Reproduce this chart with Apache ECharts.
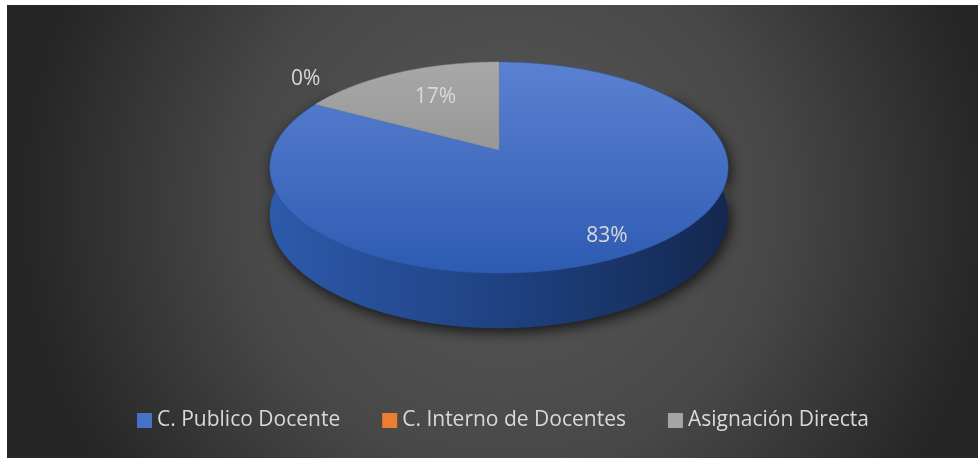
<!DOCTYPE html>
<html>
<head>
<meta charset="utf-8">
<script src="https://cdn.jsdelivr.net/npm/echarts@6/dist/echarts.min.js"></script>
<style>
  html, body { margin: 0; padding: 0; background: #fff; }
  #chart { position: absolute; left: 7px; top: 5px; width: 971px; height: 453px; }
</style>
</head>
<body>
<div id="chart"></div>
<script>
// datos (porcentajes)
const categories = ['C. Publico Docente', 'C. Interno de Docentes', 'Asignación Directa'];
const shares = [83, 0, 17];
const legendColors = ['#4472c4', '#ed7d31', '#a5a5a5'];

// geometria del pastel 3D (perspectiva simple)
const CX = 492, CY = 145, RA = 226, RB = 102.6, PERSP = 0.166, DEPTH = 46;
// donde va cada etiqueta: radio relativo + desplazamiento
const labelPlace = [
    { r: 0.84, dx: -2, dy: 2 },
    { r: 1, dx: -10, dy: -25 },
    { r: 0.63, dx: 3, dy: -2 }
];

const topFill = [
    { type: 'linear', global: true, x: 0, y: 57, x2: 0, y2: 268,
      colorStops: [{ offset: 0, color: '#5b81d1' }, { offset: 1, color: '#2d5bb2' }] },
    { type: 'linear', global: true, x: 0, y: 57, x2: 0, y2: 268,
      colorStops: [{ offset: 0, color: '#f08a44' }, { offset: 1, color: '#d96e25' }] },
    { type: 'linear', global: true, x: 0, y: 57, x2: 0, y2: 150,
      colorStops: [{ offset: 0, color: '#a8a8a8' }, { offset: 1, color: '#969696' }] }
];
const sideFill = [
    { type: 'linear', global: true, x: 263, y: 0, x2: 721, y2: 0,
      colorStops: [{ offset: 0, color: '#2d5aab' }, { offset: 0.5, color: '#1f4283' }, { offset: 1, color: '#14284f' }] },
    { type: 'linear', global: true, x: 263, y: 0, x2: 721, y2: 0,
      colorStops: [{ offset: 0, color: '#b45a1c' }, { offset: 1, color: '#6e3410' }] },
    { type: 'linear', global: true, x: 263, y: 0, x2: 721, y2: 0,
      colorStops: [{ offset: 0, color: '#7a7a7a' }, { offset: 1, color: '#4a4a4a' }] }
];

function proj(r, t, down) {
    const w = 1 / (1 + PERSP * r * Math.cos(t));
    return [CX + RA * r * Math.sin(t) * w, CY - RB * r * Math.cos(t) * w + (down ? DEPTH * w : 0)];
}

function arc(a, b, down) {
    const pts = [];
    const n = Math.max(2, Math.ceil(Math.abs(b - a) / 0.015));
    for (let k = 0; k <= n; k++) {
        pts.push(proj(1, a + (b - a) * k / n, down));
    }
    return pts;
}

const total = shares.reduce((s, v) => s + v, 0);

function renderSlice(params, api) {
    const i = params.seriesIndex;
    const before = shares.slice(0, i).reduce((s, v) => s + v, 0);
    const start = before / total * Math.PI * 2;
    const end = start + api.value(0) / total * Math.PI * 2;
    const children = [];
    if (end > start) {
        // pared frontal
        const a = Math.max(start, Math.PI * 0.3), b = Math.min(end, Math.PI * 1.7);
        if (b > a) {
            const pts = arc(a, b, false).concat(arc(a, b, true).reverse());
            children.push({
                type: 'polygon', z2: 1,
                shape: { points: pts },
                style: { fill: sideFill[i], shadowBlur: 14, shadowColor: 'rgba(0,0,0,0.75)', shadowOffsetY: 4, shadowOffsetX: 2 }
            });
        }
        // cara superior
        children.push({
            type: 'polygon', z2: 10,
            shape: { points: [[CX, CY]].concat(arc(start, end, false)) },
            style: { fill: topFill[i], stroke: topFill[i].colorStops[1].color, lineWidth: 0.5 }
        });
    }
    const mid = (start + end) / 2;
    const lp = labelPlace[i];
    const p = proj(lp.r, mid, false);
    children.push({
        type: 'text', z2: 20,
        style: {
            text: Math.round(api.value(0) / total * 100) + '%',
            x: p[0] + lp.dx, y: p[1] + lp.dy,
            align: 'center', verticalAlign: 'middle',
            fill: '#d9d9d9', fontSize: 21, fontFamily: 'Open Sans'
        }
    });
    return { type: 'group', children: children };
}

let myChart = echarts.init(document.getElementById('chart'));
myChart.setOption({
    animation: false,
    graphic: [{
        type: 'rect', z: -10, silent: true,
        shape: { x: 0, y: 0, width: 971, height: 453 },
        style: {
            fill: {
                type: 'radial', global: true, x: 500, y: 200, r: 480,
                colorStops: [
                    { offset: 0, color: '#585858' },
                    { offset: 0.55, color: '#484848' },
                    { offset: 1, color: '#262626' }
                ]
            }
        }
    }],
    legend: {
        left: 125,
        top: 400,
        icon: 'rect',
        itemWidth: 15,
        itemHeight: 15,
        itemGap: 42,
        textStyle: { color: '#d9d9d9', fontSize: 21, fontFamily: 'Open Sans' },
        data: categories.map((c, i) => ({ name: c, itemStyle: { color: legendColors[i] } }))
    },
    series: categories.map((c, i) => ({
        name: c,
        type: 'custom',
        coordinateSystem: 'none',
        silent: true,
        itemStyle: { color: legendColors[i] },
        renderItem: renderSlice,
        data: [[shares[i]]]
    }))
});
</script>
</body>
</html>
